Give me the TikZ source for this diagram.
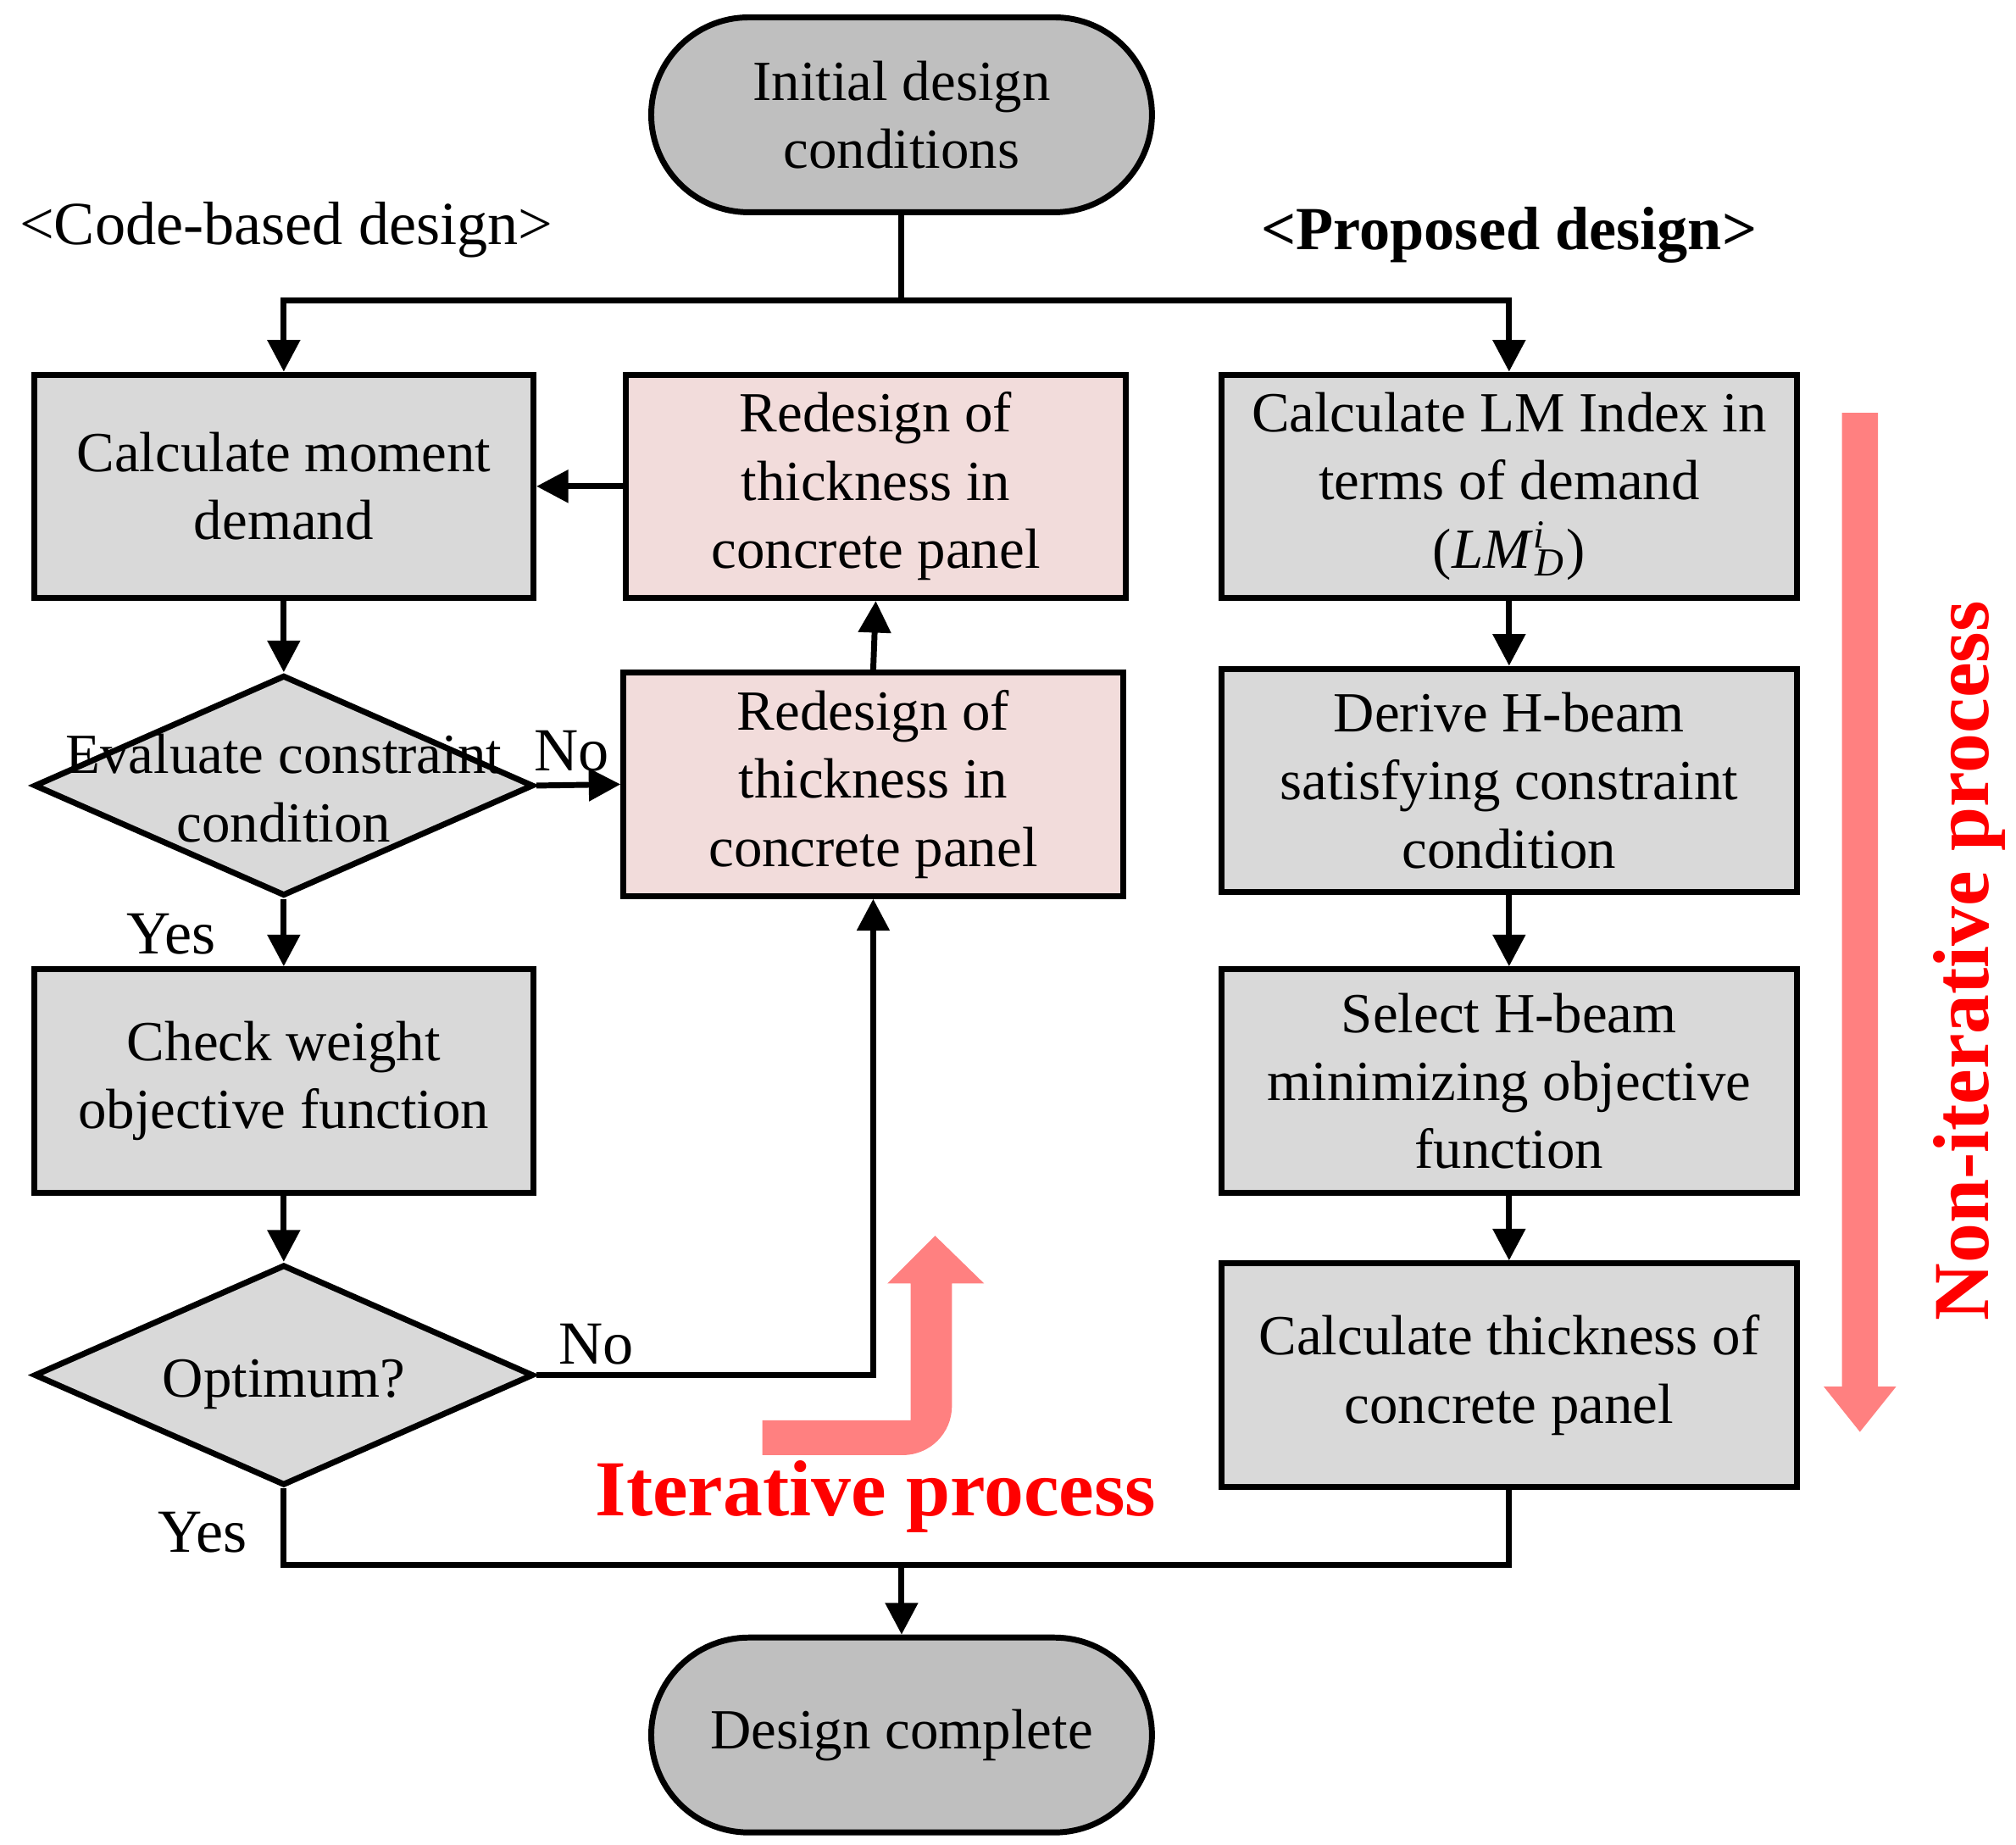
\documentclass[tikz,border=0pt]{standalone}
\usepackage{fontspec}
\setmainfont{Liberation Serif}
\usetikzlibrary{shapes.geometric,shapes.misc,arrows.meta}
\definecolor{term}{HTML}{BFBFBF}
\definecolor{boxg}{HTML}{D9D9D9}
\definecolor{pinkf}{HTML}{F2DCDB}
\definecolor{parr}{HTML}{FF8080}
\begin{document}
\begin{tikzpicture}[x=0.01cm,y=-0.01cm,
  every node/.style={font=\fontsize{12.5}{15}\selectfont,align=center,inner sep=0pt},
  box/.style={draw,line width=1.3pt,fill=boxg,minimum width=3.87cm,minimum height=1.73cm},
  pbox/.style={box,minimum width=4.46cm},
  rbox/.style={box,fill=pinkf},
  dia/.style={draw,line width=1.3pt,fill=boxg,diamond,minimum width=3.87cm,minimum height=1.71cm},
  term/.style={draw,line width=1.3pt,fill=term,rounded rectangle,minimum width=3.88cm,minimum height=1.51cm},
  ln/.style={line width=1.3pt},
  ar/.style={ln,-{Triangle[length=7pt,width=7pt]}},
  lab/.style={font=\fontsize{13.5}{16}\selectfont}]
\useasboundingbox (0,0) rectangle (1563,1430);
\node[term] (start) at (699,89) {Initial design\\conditions};
\node[lab] (cb) at (222,178) {<Code-based design>};
\node[lab,font=\fontsize{13.5}{16}\selectfont\bfseries] (pd) at (1170,182) {<Proposed design>};
\node[box] (A) at (220,377) {Calculate moment\\demand};
\node[rbox] (R1) at (679,377) {Redesign of\\thickness in\\concrete panel};
\node[pbox] (P1) at (1170,377) {Calculate LM Index in\\terms of demand\\(\textit{LM}\rlap{\textsuperscript{\textit{i}}}\kern0.5pt\textsubscript{\textit{D}})};
\node[dia] (D1) at (220,609) {};
\node (D1t) at (220,611) {Evaluate constraint\\condition};
\node[rbox] (R2) at (677,608) {Redesign of\\thickness in\\concrete panel};
\node[pbox] (P2) at (1170,605) {Derive H-beam\\satisfying constraint\\condition};
\node[box] (C) at (220,838) {Check weight\\objective function};
\node[pbox] (P3) at (1170,838) {Select H-beam\\minimizing objective\\function};
\node[dia] (D2) at (220,1066) {};
\node (D2t) at (220,1073) {Optimum?};
\node[pbox] (P4) at (1170,1066) {Calculate thickness of\\concrete panel};
\node[term] (end) at (699,1345) {Design complete};
\coordinate (j1) at (699,233);
\coordinate (j2) at (699,1213);
\draw[ln] (start.south) -- (j1);
\draw[ar] (j1) -| (A.north);
\draw[ar] (j1) -| (P1.north);
\draw[ar] (R1.west) -- (A.east);
\draw[ar] (A.south) -- (D1.north);
\draw[ar] (D1.east) -- (R2.west);
\draw[ar] (R2.north) -- (R1.south);
\draw[ar] (D1.south) -- (C.north);
\draw[ar] (C.south) -- (D2.north);
\draw[ar] (D2.east) -| (R2.south);
\draw[ln] (D2.south) |- (j2) -| (P4.south);
\draw[ar] (j2) -- (end.north);
\draw[ar] (P1) -- (P2);
\draw[ar] (P2) -- (P3);
\draw[ar] (P3) -- (P4);
\node[lab] (no1) at (443,582) {No};
\node[lab] (yes1) at (133,724) {Yes};
\node[lab] (no2) at (462,1042) {No};
\node[lab] (yes2) at (157,1188) {Yes};
\fill[parr] (1428,320) -- (1456,320) -- (1456,1075) -- (1470,1075) -- (1442,1110) -- (1414,1075) -- (1428,1075) -- cycle;
\fill[parr] (591,1101) -- (706,1101) -- (706,995) -- (688,995) -- (725,958) -- (763,995) -- (738,995) -- (738,1090) arc[start angle=0,end angle=90,radius=38] -- (591,1128) -- cycle;
\node[text=red,font=\fontsize{17.5}{20}\selectfont\bfseries] (it) at (679,1160) {Iterative process};
\node[text=red,font=\fontsize{17.5}{20}\selectfont\bfseries,rotate=90] (nit) at (1527,745) {Non-iterative process};
\end{tikzpicture}
\end{document}
